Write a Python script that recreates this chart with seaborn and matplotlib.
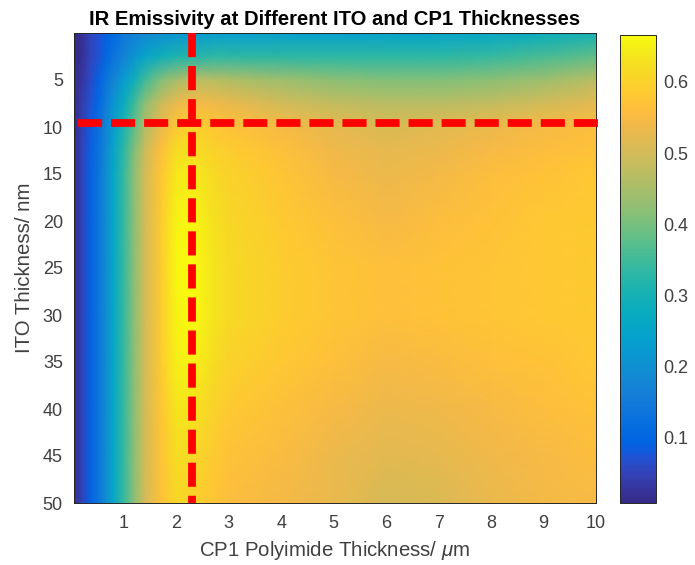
import numpy as np
import matplotlib
matplotlib.use("Agg")
import matplotlib.pyplot as plt
import seaborn as sns
from matplotlib.colors import LinearSegmentedColormap

# ---------------- data ----------------
cp1_um = [0.05, 0.2, 0.35, 0.5, 0.65, 0.8, 1.0, 1.2, 1.4, 1.7, 2.0, 2.3, 2.7, 3.0,
          4.0, 5.0, 6.0, 7.0, 8.0, 9.0, 10.0]
ito_nm = [0, 2.5, 5, 7.5, 10, 12.5, 15, 20, 25, 30, 35, 40, 45, 50]

em_0 = [0.01, 0.02, 0.05, 0.07, 0.09, 0.11, 0.14, 0.16, 0.18, 0.20, 0.21, 0.22, 0.23, 0.235, 0.24, 0.24, 0.245, 0.25, 0.26, 0.28, 0.30]
em_2p5 = [0.01, 0.02, 0.05, 0.07, 0.10, 0.13, 0.17, 0.21, 0.25, 0.29, 0.31, 0.32, 0.33, 0.33, 0.33, 0.33, 0.33, 0.33, 0.34, 0.36, 0.38]
em_5 = [0.015, 0.03, 0.06, 0.09, 0.13, 0.17, 0.23, 0.29, 0.35, 0.41, 0.45, 0.47, 0.47, 0.46, 0.44, 0.42, 0.41, 0.41, 0.42, 0.44, 0.47]
em_7p5 = [0.015, 0.04, 0.07, 0.10, 0.15, 0.21, 0.28, 0.35, 0.42, 0.49, 0.53, 0.55, 0.54, 0.53, 0.50, 0.48, 0.47, 0.47, 0.48, 0.50, 0.52]
em_10 = [0.015, 0.045, 0.08, 0.12, 0.17, 0.23, 0.31, 0.38, 0.46, 0.53, 0.58, 0.60, 0.58, 0.57, 0.55, 0.525, 0.51, 0.52, 0.535, 0.55, 0.56]
em_12p5 = [0.015, 0.05, 0.085, 0.125, 0.18, 0.25, 0.33, 0.41, 0.49, 0.56, 0.62, 0.625, 0.60, 0.59, 0.565, 0.54, 0.525, 0.535, 0.55, 0.56, 0.57]
em_15 = [0.015, 0.05, 0.09, 0.13, 0.19, 0.26, 0.34, 0.42, 0.50, 0.575, 0.64, 0.645, 0.615, 0.60, 0.575, 0.55, 0.535, 0.545, 0.56, 0.57, 0.58]
em_20 = [0.015, 0.05, 0.09, 0.13, 0.19, 0.26, 0.34, 0.42, 0.50, 0.585, 0.655, 0.66, 0.63, 0.61, 0.585, 0.565, 0.55, 0.56, 0.57, 0.58, 0.585]
em_25 = [0.015, 0.05, 0.09, 0.13, 0.19, 0.26, 0.34, 0.42, 0.50, 0.585, 0.66, 0.665, 0.635, 0.615, 0.59, 0.575, 0.565, 0.57, 0.575, 0.58, 0.585]
em_30 = [0.015, 0.05, 0.09, 0.13, 0.19, 0.26, 0.34, 0.42, 0.50, 0.585, 0.655, 0.665, 0.635, 0.615, 0.59, 0.575, 0.565, 0.57, 0.575, 0.58, 0.585]
em_35 = [0.015, 0.05, 0.09, 0.13, 0.19, 0.26, 0.34, 0.42, 0.50, 0.585, 0.65, 0.655, 0.62, 0.60, 0.58, 0.565, 0.55, 0.555, 0.565, 0.57, 0.58]
em_40 = [0.015, 0.05, 0.09, 0.13, 0.19, 0.26, 0.34, 0.42, 0.50, 0.575, 0.635, 0.635, 0.60, 0.585, 0.565, 0.55, 0.535, 0.54, 0.55, 0.56, 0.57]
em_45 = [0.015, 0.05, 0.09, 0.13, 0.19, 0.26, 0.34, 0.42, 0.50, 0.57, 0.62, 0.615, 0.585, 0.57, 0.555, 0.535, 0.52, 0.525, 0.54, 0.55, 0.56]
em_50 = [0.015, 0.05, 0.09, 0.13, 0.19, 0.26, 0.34, 0.42, 0.50, 0.565, 0.61, 0.60, 0.575, 0.56, 0.545, 0.53, 0.505, 0.51, 0.53, 0.545, 0.55]

emissivity = [em_0, em_2p5, em_5, em_7p5, em_10, em_12p5, em_15, em_20, em_25,
              em_30, em_35, em_40, em_45, em_50]

x_ticks = [1, 2, 3, 4, 5, 6, 7, 8, 9, 10]
y_ticks = [5, 10, 15, 20, 25, 30, 35, 40, 45, 50]
cbar_ticks = [0.1, 0.2, 0.3, 0.4, 0.5, 0.6]
cp1_marker = 2.3
ito_marker = 9.6

# ---------------- parula colormap ----------------
parula_rgb = [
    (0.2081, 0.1663, 0.5292), (0.2116, 0.1898, 0.5777), (0.2123, 0.2138, 0.6270),
    (0.2081, 0.2386, 0.6771), (0.1959, 0.2645, 0.7279), (0.1707, 0.2919, 0.7792),
    (0.1253, 0.3242, 0.8303), (0.0591, 0.3598, 0.8683), (0.0117, 0.3875, 0.8820),
    (0.0060, 0.4086, 0.8828), (0.0165, 0.4266, 0.8786), (0.0329, 0.4430, 0.8720),
    (0.0498, 0.4586, 0.8641), (0.0629, 0.4737, 0.8554), (0.0723, 0.4887, 0.8467),
    (0.0779, 0.5040, 0.8384), (0.0793, 0.5200, 0.8312), (0.0749, 0.5375, 0.8263),
    (0.0641, 0.5570, 0.8240), (0.0488, 0.5772, 0.8228), (0.0343, 0.5966, 0.8199),
    (0.0265, 0.6137, 0.8135), (0.0239, 0.6287, 0.8038), (0.0231, 0.6418, 0.7913),
    (0.0228, 0.6535, 0.7768), (0.0267, 0.6642, 0.7607), (0.0384, 0.6743, 0.7436),
    (0.0590, 0.6838, 0.7254), (0.0843, 0.6928, 0.7062), (0.1133, 0.7015, 0.6859),
    (0.1453, 0.7098, 0.6646), (0.1801, 0.7177, 0.6424), (0.2178, 0.7250, 0.6193),
    (0.2586, 0.7317, 0.5954), (0.3022, 0.7376, 0.5712), (0.3482, 0.7424, 0.5473),
    (0.3953, 0.7459, 0.5244), (0.4420, 0.7481, 0.5033), (0.4871, 0.7491, 0.4840),
    (0.5300, 0.7491, 0.4661), (0.5709, 0.7485, 0.4494), (0.6099, 0.7473, 0.4337),
    (0.6473, 0.7456, 0.4188), (0.6834, 0.7435, 0.4044), (0.7184, 0.7411, 0.3905),
    (0.7525, 0.7384, 0.3768), (0.7858, 0.7356, 0.3633), (0.8185, 0.7327, 0.3498),
    (0.8507, 0.7299, 0.3360), (0.8824, 0.7274, 0.3217), (0.9139, 0.7258, 0.3063),
    (0.9450, 0.7261, 0.2886), (0.9739, 0.7314, 0.2666), (0.9938, 0.7455, 0.2403),
    (0.9990, 0.7653, 0.2164), (0.9955, 0.7861, 0.1967), (0.9880, 0.8066, 0.1794),
    (0.9789, 0.8271, 0.1633), (0.9697, 0.8481, 0.1475), (0.9626, 0.8705, 0.1309),
    (0.9589, 0.8949, 0.1132), (0.9598, 0.9218, 0.0948), (0.9661, 0.9514, 0.0755),
    (0.9763, 0.9831, 0.0538)]
parula = LinearSegmentedColormap.from_list("parula", parula_rgb, N=256)

# ---------------- plot ----------------
sns.set_theme(style="ticks")
plt.rcParams["font.family"] = ["Liberation Sans", "DejaVu Sans"]
plt.rcParams["mathtext.fontset"] = "custom"
plt.rcParams["mathtext.it"] = "Liberation Sans:italic"
plt.rcParams["mathtext.rm"] = "Liberation Sans"

W, H = 695, 565
fig = plt.figure(figsize=(W / 100, H / 100), dpi=100)
ax = fig.add_axes([74 / W, 1 - 503 / H, (596 - 74) / W, (503 - 33) / H])
cax = fig.add_axes([620 / W, 1 - 503 / H, 36 / W, (503 - 35) / H])

X, Y = np.meshgrid(np.array(cp1_um), np.array(ito_nm))
Z = np.array(emissivity)
mesh = ax.pcolormesh(X, Y, Z, shading="gouraud", cmap=parula,
                     vmin=0.0087, vmax=0.666, rasterized=True)

ax.set_xlim(cp1_um[0], cp1_um[-1])
ax.set_ylim(ito_nm[-1], ito_nm[0])
ax.set_xticks(x_ticks)
ax.set_yticks(y_ticks)

dark = "#262626"
tick_grey = "#404040"
red_kw = dict(color="#ff0000", lw=5.6, dashes=(3.1, 1.15), solid_capstyle="butt",
              dash_capstyle="butt", zorder=5)
ax.plot([0.12, 10.05], [ito_marker, ito_marker], clip_on=False, **red_kw)
ax.plot([cp1_marker, cp1_marker], [0, 50], **red_kw)

ax.tick_params(direction="in", top=True, right=True, length=4, width=0.6,
               colors=dark, labelcolor=tick_grey, labelsize=13)
ax.tick_params(axis="x", pad=9)
ax.tick_params(axis="y", pad=8)
for s in ax.spines.values():
    s.set_color(dark)
    s.set_linewidth(0.7)

ax.set_title("IR Emissivity at Different ITO and CP1 Thicknesses",
             fontsize=14.6, fontweight="bold", color="black", pad=6)
ax.set_xlabel(r"CP1 Polyimide Thickness/ $\mu$m", fontsize=14.7, color=tick_grey, labelpad=5)
ax.set_ylabel("ITO Thickness/ nm", fontsize=14.7, color=tick_grey, labelpad=6)

cb = fig.colorbar(mesh, cax=cax, ticks=cbar_ticks)
cb.ax.tick_params(direction="in", length=4, width=0.6, colors=dark,
                  labelcolor=tick_grey, labelsize=13, pad=5)
cb.ax.set_yticklabels([f"{t:.1f}" for t in cbar_ticks])
cb.outline.set_edgecolor(dark)
cb.outline.set_linewidth(0.7)

fig.savefig("out.png", dpi=100)
